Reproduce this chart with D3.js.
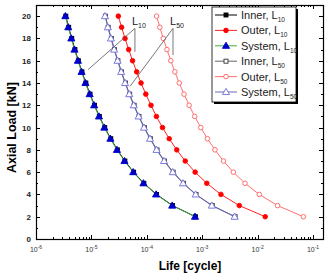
<!DOCTYPE html>
<html>
<head>
<meta charset="utf-8">
<script src="https://cdn.jsdelivr.net/npm/d3@7"></script>
<style>
  body { margin: 0; background: #fff; }
  svg { font-family: Arial, "Liberation Sans", sans-serif; }
</style>
</head>
<body>
<svg id="chart" width="328" height="276"></svg>
<script>
// axial load [kN] for every point
var loads = [20, 19, 18, 17, 16, 15, 14, 13, 12, 11, 10, 9, 8, 7, 6, 5, 4, 3, 2];

// life values
var innerL10 = [3.45e-6, 3.89e-6, 4.42e-6, 5.04e-6, 5.81e-6, 6.76e-6, 7.94e-6, 9.45e-6, 1.14e-5, 1.39e-5, 1.74e-5, 2.24e-5, 2.94e-5, 4.02e-5, 5.78e-5, 8.84e-5, 1.50e-4, 2.92e-4, 7.54e-4];
var outerL10 = [3.06e-5, 3.51e-5, 4.05e-5, 4.71e-5, 5.53e-5, 6.56e-5, 7.87e-5, 9.59e-5, 1.19e-4, 1.49e-4, 1.92e-4, 2.54e-4, 3.47e-4, 4.94e-4, 7.45e-4, 1.21e-3, 2.18e-3, 4.67e-3, 1.37e-2];
var systemL10 = [3.39e-6, 3.82e-6, 4.34e-6, 4.95e-6, 5.71e-6, 6.64e-6, 7.80e-6, 9.29e-6, 1.12e-5, 1.37e-5, 1.71e-5, 2.20e-5, 2.89e-5, 3.95e-5, 5.68e-5, 8.69e-5, 1.47e-4, 2.87e-4, 7.41e-4];
var innerL50 = [1.79e-5, 2.01e-5, 2.29e-5, 2.61e-5, 3.01e-5, 3.50e-5, 4.12e-5, 4.90e-5, 5.91e-5, 7.23e-5, 9.04e-5, 1.16e-4, 1.53e-4, 2.09e-4, 2.99e-4, 4.59e-4, 7.73e-4, 1.52e-3, 3.92e-3];
var outerL50 = [1.50e-4, 1.72e-4, 1.98e-4, 2.31e-4, 2.71e-4, 3.21e-4, 3.85e-4, 4.70e-4, 5.81e-4, 7.31e-4, 9.42e-4, 1.24e-3, 1.70e-3, 2.42e-3, 3.65e-3, 5.92e-3, 1.07e-2, 2.29e-2, 6.70e-2];
var systemL50 = [1.76e-5, 1.98e-5, 2.25e-5, 2.57e-5, 2.96e-5, 3.44e-5, 4.05e-5, 4.82e-5, 5.81e-5, 7.11e-5, 8.89e-5, 1.14e-4, 1.50e-4, 2.05e-4, 2.94e-4, 4.51e-4, 7.60e-4, 1.49e-3, 3.85e-3];

var xTickValues = [1e-6, 1e-5, 1e-4, 1e-3, 1e-2, 1e-1];
var xTickExps = ["-6", "-5", "-4", "-3", "-2", "-1"];
var yTickValues = [0, 2, 4, 6, 8, 10, 12, 14, 16, 18, 20];

// annotation anchors, in data units [life, load]
var noteL10 = { label: "10", apex: [6.1e-5, 18.9], ends: [[8.7e-6, 15.2], [6.1e-5, 16.8]] };
var noteL50 = { label: "50", apex: [2.97e-4, 18.9], ends: [[4.98e-5, 13.7], [2.97e-4, 16.5]] };

var series = [
  { name: "Inner, L", sub: "10", values: innerL10, line: "#000", marker: "square", fill: "#000", stroke: "#000" },
  { name: "Outer, L", sub: "10", values: outerL10, line: "#ff2222", marker: "circle", fill: "#ff0000", stroke: "#ff0000" },
  { name: "System, L", sub: "10", values: systemL10, line: "#44aa44", marker: "triangle", fill: "#0000cc", stroke: "#0000cc" },
  { name: "Inner, L", sub: "50", values: innerL50, line: "#666", marker: "square", fill: "#fff", stroke: "#333" },
  { name: "Outer, L", sub: "50", values: outerL50, line: "#ff7070", marker: "circle", fill: "#fff", stroke: "#ff6060" },
  { name: "System, L", sub: "50", values: systemL50, line: "#6666bb", marker: "triangle", fill: "#fff", stroke: "#6f6fdd" }
];

var margin = { left: 36, right: 5, top: 5, bottom: 37 };
var width = 328, height = 276;
var svg = d3.select("#chart");

var x = d3.scaleLog().domain([1e-6, Math.pow(10, -0.82)]).range([margin.left, width - margin.right]);
var y = d3.scaleLinear().domain([0, 21]).range([height - margin.bottom, margin.top]);

var plotW = width - margin.right - margin.left;
var plotH = height - margin.bottom - margin.top;

// minor log ticks
var minorX = [];
for (var e = -6; e <= -1; e++) {
  for (var m = 2; m <= 9; m++) {
    var v = m * Math.pow(10, e);
    if (v < x.domain()[1]) minorX.push(v);
  }
}
var minorY = d3.range(1, 21, 2);

var ticks = svg.append("g").attr("stroke", "#000").attr("stroke-width", 1);
function tickLines(vals, len, isX) {
  vals.forEach(function(v) {
    if (isX) {
      var px = Math.round(x(v)) + 0.5;
      ticks.append("line").attr("x1", px).attr("x2", px).attr("y1", y(0)).attr("y2", y(0) - len);
      ticks.append("line").attr("x1", px).attr("x2", px).attr("y1", margin.top).attr("y2", margin.top + len);
    } else {
      var py = Math.round(y(v)) + 0.5;
      ticks.append("line").attr("x1", margin.left).attr("x2", margin.left + len).attr("y1", py).attr("y2", py);
      ticks.append("line").attr("x1", width - margin.right).attr("x2", width - margin.right - len).attr("y1", py).attr("y2", py);
    }
  });
}
tickLines(xTickValues, 4, true);
tickLines(minorX, 2, true);
tickLines(yTickValues, 4, false);
tickLines(minorY, 2, false);

// frame
svg.append("rect")
  .attr("x", margin.left + 0.5).attr("y", margin.top + 0.5)
  .attr("width", plotW).attr("height", plotH)
  .attr("fill", "none").attr("stroke", "#000").attr("stroke-width", 1.2);

// tick labels
var xl = svg.append("g").attr("font-size", 7).attr("fill", "#333").attr("text-anchor", "middle");
xTickValues.forEach(function(v, i) {
  var t = xl.append("text").attr("x", x(v)).attr("y", y(0) + 13);
  t.append("tspan").text("10");
  t.append("tspan").attr("font-size", 5).attr("dy", -3).text(xTickExps[i]);
});
var yl = svg.append("g").attr("font-size", 8).attr("font-weight", "bold").attr("fill", "#222").attr("text-anchor", "end");
yTickValues.forEach(function(v) {
  yl.append("text").attr("x", margin.left - 5).attr("y", y(v) + 3).text(v);
});

// axis titles
svg.append("text").attr("x", 190).attr("y", 270).attr("text-anchor", "middle")
  .attr("font-size", 12).attr("font-weight", "bold").text("Life [cycle]");
svg.append("text").attr("transform", "translate(16," + (y(0) + y(20)) / 2 + ") rotate(-90)")
  .attr("text-anchor", "middle").attr("font-size", 12.5).attr("font-weight", "bold").text("Axial Load [kN]");

// markers
function drawMarker(g, type, cx, cy) {
  if (type === "square") {
    return g.append("rect").attr("x", cx - 2).attr("y", cy - 2).attr("width", 4).attr("height", 4);
  } else if (type === "circle") {
    return g.append("circle").attr("cx", cx).attr("cy", cy).attr("r", 2.3);
  }
  return g.append("path").attr("d", d3.symbol().type(d3.symbolTriangle).size(22)()).attr("transform", "translate(" + cx + "," + (cy + 0.5) + ")");
}

var line = d3.line().x(function(d) { return x(d[0]); }).y(function(d) { return y(d[1]); });

series.forEach(function(s) {
  var pts = s.values.map(function(v, i) { return [v, loads[i]]; });
  var g = svg.append("g");
  g.append("path").attr("d", line(pts)).attr("fill", "none").attr("stroke", s.line).attr("stroke-width", 1);
  pts.forEach(function(p) {
    drawMarker(g, s.marker, x(p[0]), y(p[1])).attr("fill", s.fill).attr("stroke", s.stroke).attr("stroke-width", 0.9);
  });
});

// annotations
[noteL10, noteL50].forEach(function(n) {
  var ax = x(n.apex[0]), ay = y(n.apex[1]);
  n.ends.forEach(function(e) {
    svg.append("line").attr("x1", ax).attr("y1", ay).attr("x2", x(e[0])).attr("y2", y(e[1]))
      .attr("stroke", "#555").attr("stroke-width", 0.8);
  });
  var t = svg.append("text").attr("x", ax - 3).attr("y", ay - 3).attr("font-size", 11).attr("fill", "#222");
  t.append("tspan").text("L");
  t.append("tspan").attr("font-size", 7).attr("dy", 3).text(n.label);
});

// legend
var lg = svg.append("g");
var lx = 212, ly = 7, lw = 84, lh = 95;
lg.append("rect").attr("x", lx + 2).attr("y", ly + 2).attr("width", lw).attr("height", lh).attr("fill", "#000");
lg.append("rect").attr("x", lx).attr("y", ly).attr("width", lw).attr("height", lh).attr("fill", "#fff").attr("stroke", "#000").attr("stroke-width", 0.8);
series.forEach(function(s, i) {
  var ry = ly + 8 + i * 15.4;
  lg.append("line").attr("x1", lx + 3).attr("x2", lx + 25).attr("y1", ry).attr("y2", ry).attr("stroke", s.line).attr("stroke-width", 1);
  drawMarker(lg, s.marker, lx + 14, ry).attr("fill", s.fill).attr("stroke", s.stroke).attr("stroke-width", 0.9);
  var t = lg.append("text").attr("x", lx + 29).attr("y", ry + 4).attr("font-size", 11).attr("fill", "#222");
  t.append("tspan").text(s.name);
  t.append("tspan").attr("font-size", 6.5).attr("dy", 3).text(s.sub);
});
</script>
</body>
</html>
